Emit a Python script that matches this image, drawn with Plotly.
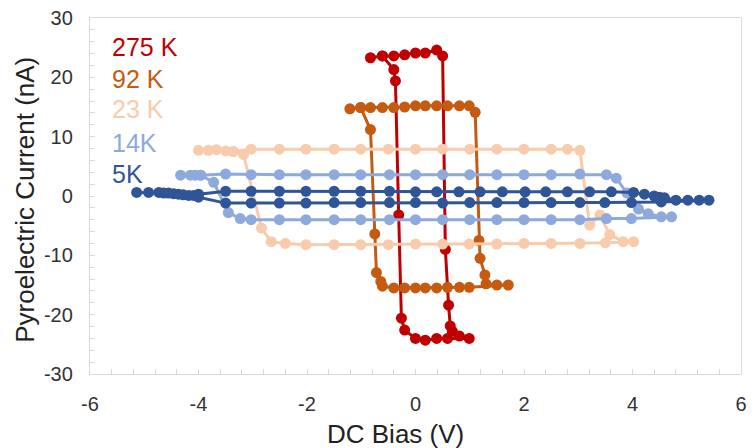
import plotly.graph_objects as go

# ---- data ----
v_275 = [-0.83, -0.61, -0.40, -0.20, 0.00, 0.18, 0.39, 0.50, 0.55, 0.61, 0.64, 0.68, 0.81, 0.99,
         0.59, 0.39, 0.18, 0.00, -0.20, -0.26, -0.31, -0.37, -0.40, -0.61]
i_275 = [23.3, 23.6, 23.6, 23.8, 24.1, 24.1, 24.6, 23.6, -9.0, -18.4, -21.9, -22.8, -23.6, -24.0,
         -24.0, -24.0, -24.3, -24.0, -22.6, -20.6, -3.2, 19.4, 21.3, 23.6]

v_92 = [-1.21, -1.01, -0.83, -0.61, -0.40, -0.20, 0.00, 0.18, 0.39, 0.59, 0.81, 0.99, 1.10,
        1.17, 1.19, 1.28, 1.30, 1.50, 1.71,
        0.99, 0.81, 0.59, 0.39, 0.18, 0.00, -0.20, -0.40, -0.61, -0.64, -0.72, -0.75, -0.83, -1.01]
i_92 = [14.7, 14.9, 14.9, 14.9, 14.9, 15.0, 15.2, 15.2, 15.2, 15.2, 15.2, 15.2, 14.1,
        -7.5, -10.5, -13.3, -14.8, -15.0, -15.0,
        -15.4, -15.4, -15.4, -15.5, -15.5, -15.5, -15.5, -15.5, -15.2, -14.4, -12.9, -6.4, 11.2, 14.9]

v_23 = [-4.00, -3.82, -3.67, -3.50, -3.36, -3.03, -2.51, -2.02, -1.50, -1.01, -0.50, 0.00, 0.50,
        1.00, 1.50, 2.00, 2.50, 2.80, 3.03,
        3.21, 3.40, 3.58, 3.83, 4.02,
        3.50, 3.03, 2.50, 2.00, 1.50, 0.99, 0.50, 0.00, -0.50, -1.01, -1.50, -2.02, -2.40,
        -2.66, -2.84, -3.17, -3.36]
i_23 = [7.7, 7.7, 7.8, 7.6, 7.5, 7.9, 7.9, 7.9, 7.9, 7.9, 7.9, 7.9, 7.9,
        7.9, 7.9, 7.9, 7.9, 7.9, 7.7,
        -4.9, -3.2, -6.5, -7.7, -7.7,
        -7.9, -8.0, -8.0, -8.0, -8.1, -8.1, -8.1, -8.1, -8.2, -8.2, -8.2, -8.2, -8.0,
        -7.7, -5.4, 7.0, 7.5]

v_14 = [-4.33, -4.15, -4.06, -3.96, -3.50, -3.03, -2.51, -2.02, -1.50, -1.01, -0.48, 0.00, 0.50,
        1.00, 1.50, 2.00, 2.50, 3.03, 3.52, 3.70,
        3.90, 4.11, 4.29, 4.53, 4.72,
        3.98, 3.52, 3.03, 2.50, 2.00, 1.50, 1.00, 0.50, 0.00, -0.48, -1.01, -1.50, -2.02, -2.51, -3.03,
        -3.23, -3.45, -3.72, -3.96]
i_14 = [3.5, 3.5, 3.5, 3.5, 3.7, 3.6, 3.6, 3.6, 3.6, 3.6, 3.6, 3.6, 3.6,
        3.6, 3.6, 3.6, 3.6, 3.7, 3.6, 3.0,
        0.5, -2.2, -3.0, -3.5, -3.5,
        -3.8, -3.8, -4.0, -4.0, -4.0, -4.0, -4.0, -4.0, -4.0, -4.0, -4.0, -4.0, -4.0, -4.0, -4.0,
        -3.8, -2.8, 2.3, 3.5]

v_5 = [-5.14, -4.92, -4.73, -4.64, -4.55, -4.46, -4.37, -4.28, -4.18, -4.09, -4.00,
       -3.50, -3.03, -2.51, -2.02, -1.50, -1.01, -0.48, 0.00, 0.39, 0.80, 1.19, 1.60, 2.02,
       2.40, 2.80, 3.21, 3.61, 4.02,
       4.22, 4.40, 4.50, 4.59, 4.80, 5.02, 5.23, 5.41,
       4.53, 3.98, 3.49, 3.03, 2.50, 2.00, 1.50, 1.00, 0.50, 0.00, -0.48, -1.01, -1.50, -2.02,
       -2.51, -3.03, -3.50, -4.00]
i_5 = [0.6, 0.6, 0.6, 0.5, 0.5, 0.4, 0.3, 0.2, 0.1, 0.1, 0.3,
       0.8, 0.8, 0.8, 0.8, 0.8, 0.8, 0.8, 0.7, 0.7, 0.7, 0.7, 0.7, 0.7,
       0.7, 0.7, 0.7, 0.7, 0.6,
       0.3, 0.0, -0.2, -0.3, -0.7, -0.7, -0.7, -0.7,
       -1.0, -1.1, -1.1, -1.1, -1.1, -1.1, -1.1, -1.1, -1.2, -1.1, -1.1, -1.1, -1.1, -1.2,
       -1.2, -1.2, -1.2, -0.2]

labels = ["275 K", "92 K", "23 K", "14K", "5K"]
colors = ["#C00000", "#C55A11", "#F8CBAD", "#8EA9DB", "#2F5597"]
series_v = [v_275, v_92, v_23, v_14, v_5]
series_i = [i_275, i_92, i_23, i_14, i_5]

x_tickvals = [-6, -4, -2, 0, 2, 4, 6]
x_ticktext = ["-6", "-4", "-2", "0", "2", "4", "6"]
y_tickvals = [-30, -20, -10, 0, 10, 20, 30]
y_ticktext = ["-30", "-20", "-10", "0", "10", "20", "30"]

FONT = "Arial, Liberation Sans, sans-serif"

fig = go.Figure()
for lab, col, vx, iy in zip(labels, colors, series_v, series_i):
    fig.add_trace(go.Scatter(x=vx, y=iy, mode="lines+markers", name=lab,
                             line=dict(color=col, width=3),
                             marker=dict(color=col, size=11)))

# coloured text labels in the upper-left corner
label_y = [0.919, 0.830, 0.743, 0.648, 0.561]
for lab, col, yy in zip(labels, colors, label_y):
    fig.add_annotation(text=lab, xref="paper", yref="paper", x=0.031, y=yy,
                       xanchor="left", yanchor="middle", showarrow=False,
                       font=dict(family=FONT, size=25, color=col))

fig.add_annotation(text="DC Bias (V)", xref="paper", yref="paper", x=0.47, y=-0.168,
                   xanchor="center", yanchor="middle", showarrow=False,
                   font=dict(family=FONT, size=26, color="#222222"))
fig.add_annotation(text="Pyroelectric Current (nA)", xref="paper", yref="paper",
                   x=-0.101, y=0.49, textangle=-90, xanchor="center", yanchor="middle",
                   showarrow=False, font=dict(family=FONT, size=26, color="#222222"))

axis_common = dict(showgrid=False, zeroline=False, showline=True, mirror=True,
                   linecolor="#D9D9D9", linewidth=1.3, ticks="inside", ticklen=5,
                   tickcolor="#D9D9D9", tickfont=dict(family=FONT, size=20, color="#333333"))
fig.update_xaxes(range=[-6, 6], tickmode="array", tickvals=x_tickvals, ticktext=x_ticktext,
                 minor=dict(tickmode="linear", tick0=-6, dtick=0.4, ticks="inside",
                            ticklen=5, tickcolor="#D9D9D9"),
                 ticklabelstandoff=12, **axis_common)
fig.update_yaxes(range=[-30, 30], tickmode="array", tickvals=y_tickvals, ticktext=y_ticktext,
                 minor=dict(tickmode="linear", tick0=-30, dtick=2, ticks="inside",
                            ticklen=5, tickcolor="#D9D9D9"),
                 ticklabelstandoff=12, **axis_common)

fig.update_layout(width=754, height=448, showlegend=False,
                  margin=dict(l=90, r=7, t=16, b=74),
                  paper_bgcolor="white", plot_bgcolor="white",
                  font=dict(family=FONT))

fig.write_html("out.html")
